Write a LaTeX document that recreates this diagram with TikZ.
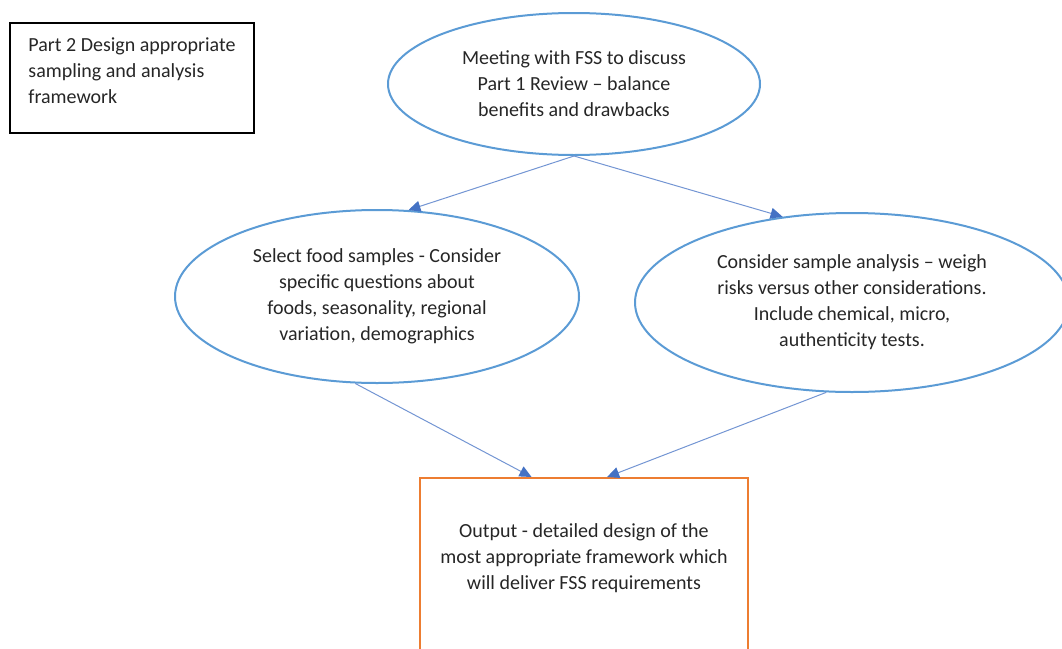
\documentclass[tikz,border=0pt]{standalone}
\usepackage{fontspec}
\setmainfont{Carlito}
\usetikzlibrary{arrows.meta, positioning, calc, shapes.geometric}
\definecolor{ellblue}{HTML}{5B9BD5}
\definecolor{arrblue}{HTML}{4472C4}
\definecolor{outorange}{HTML}{ED7D31}
\definecolor{txtgrey}{HTML}{262626}

\begin{document}
\begin{tikzpicture}[x=1pt, y=-1pt,
  every node/.style={font=\fontsize{20}{26}\selectfont, text=txtgrey, align=center},
  stage/.style={ellipse, draw=ellblue, line width=2pt, inner sep=0pt},
  flow/.style={draw=arrblue!75, line width=1pt, -{Triangle[length=12pt, width=11pt, color=arrblue]}}]
  \useasboundingbox (0,0) rectangle (1062,648);
  % heading box, top left
  \node[draw=black, line width=2pt, minimum width=244pt, minimum height=110pt, anchor=north west, align=left] (part) at (9,22) {Part 2 Design appropriate\\ sampling and analysis\\ framework\rule[-14pt]{0pt}{0pt}};
  \node[stage, minimum width=372pt, minimum height=142pt] (meeting) at (574,84) {Meeting with FSS to discuss\\ Part 1 Review -- balance\\ benefits and drawbacks};
  \node[stage, minimum width=404pt, minimum height=173pt] (select) at (377,296.5) {Select food samples - Consider\\ specific questions about\\ foods, seasonality, regional\\ variation, demographics};
  \node[stage, minimum width=434pt, minimum height=179pt] (analysis) at (852,302.5) {Consider sample analysis -- weigh\\ risks versus other considerations.\\ Include chemical, micro,\\ authenticity tests.};
  % output box runs off the bottom edge
  \node[draw=outorange, line width=2pt, minimum width=328pt, minimum height=200pt, anchor=north] (output) at (584,477) {};
  \node (outtext) at (584,558) {Output - detailed design of the\\ most appropriate framework which\\ will deliver FSS requirements};
  \draw[flow] (meeting.south) -- (select.70);
  \draw[flow] (meeting.south) -- (analysis.129);
  \draw[flow] (select.256) -- ($(output.north west)!0.341!(output.north east)$);
  \draw[flow] (analysis.254) -- ($(output.north west)!0.57!(output.north east)$);
\end{tikzpicture}
\end{document}
